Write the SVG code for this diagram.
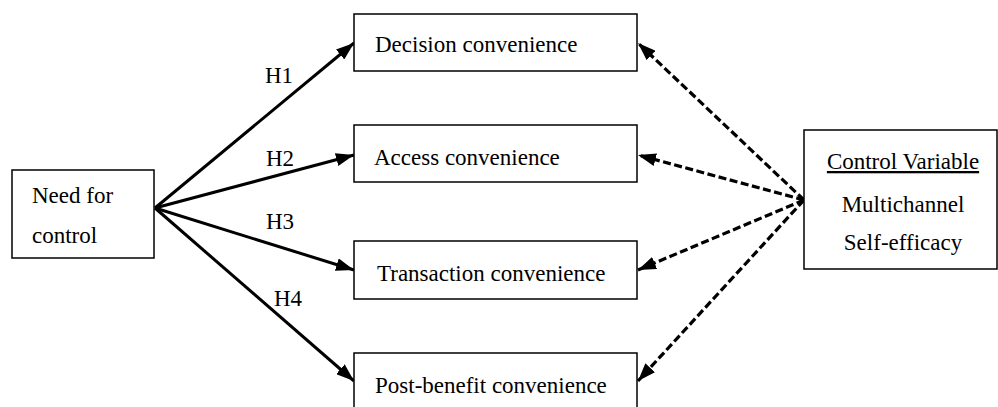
<svg xmlns="http://www.w3.org/2000/svg" width="998" height="407" viewBox="0 0 998 407">
<defs>
<style>
.box{fill:#fff;stroke:#000;stroke-width:1.5}
.t{font-family:"Liberation Serif","Times New Roman",serif;font-size:23px;fill:#000}
.solid{stroke:#000;stroke-width:3;fill:none}
.dash{stroke:#000;stroke-width:3.2;fill:none;stroke-dasharray:8 3.5}
</style>
<marker id="ah" viewBox="0 0 18 13" refX="18" refY="6.5" markerWidth="18" markerHeight="13" markerUnits="userSpaceOnUse" orient="auto">
<path d="M0,0 L18,6.5 L0,13 Z" fill="#000"/>
</marker>
</defs>
<rect width="998" height="407" fill="#fff"/>
<g id="connectors">
<line class="solid" x1="155" y1="208" x2="354" y2="43" marker-end="url(#ah)"/>
<line class="solid" x1="155" y1="208" x2="354" y2="155" marker-end="url(#ah)"/>
<line class="solid" x1="155" y1="208" x2="354" y2="270" marker-end="url(#ah)"/>
<line class="solid" x1="155" y1="208" x2="354" y2="381" marker-end="url(#ah)"/>
<line class="dash" x1="804" y1="200" x2="638" y2="43" marker-end="url(#ah)"/>
<line class="dash" x1="804" y1="200" x2="638" y2="155" marker-end="url(#ah)"/>
<line class="dash" x1="804" y1="200" x2="638" y2="270" marker-end="url(#ah)"/>
<line class="dash" x1="804" y1="200" x2="638" y2="381" marker-end="url(#ah)"/>
<text class="t" x="265" y="83">H1</text>
<text class="t" x="266" y="166">H2</text>
<text class="t" x="266" y="229">H3</text>
<text class="t" x="274" y="306">H4</text>
</g>
<g id="need">
<rect class="box" x="12" y="170" width="142" height="88"/>
<text class="t" x="32" y="203">Need for</text>
<text class="t" x="32" y="243">control</text>
</g>
<g id="decision">
<rect class="box" x="354" y="14" width="283" height="57"/>
<text class="t" x="375" y="52">Decision convenience</text>
</g>
<g id="access">
<rect class="box" x="354" y="125" width="283" height="57"/>
<text class="t" x="374" y="165">Access convenience</text>
</g>
<g id="transaction">
<rect class="box" x="354" y="241" width="283" height="58"/>
<text class="t" x="377" y="281">Transaction convenience</text>
</g>
<g id="postbenefit">
<rect class="box" x="354" y="353" width="283" height="58"/>
<text class="t" x="375" y="393">Post-benefit convenience</text>
</g>
<g id="control">
<rect class="box" x="804" y="130" width="193" height="139"/>
<text class="t" x="903" y="169" text-anchor="middle" text-decoration="underline">Control Variable</text>
<text class="t" x="903" y="212" text-anchor="middle">Multichannel</text>
<text class="t" x="903" y="250" text-anchor="middle">Self-efficacy</text>
</g>
</svg>
